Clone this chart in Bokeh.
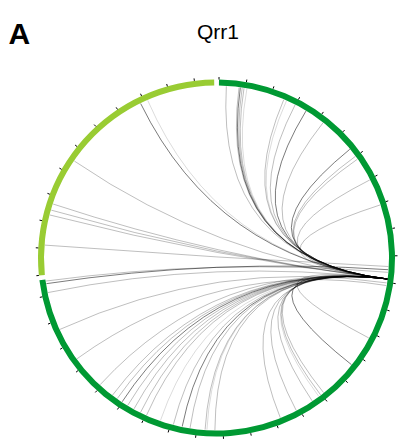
import numpy as np
from bokeh.plotting import figure
from bokeh.models import Range1d, ColumnDataSource
from bokeh.core.properties import value
from bokeh.embed import file_html
from bokeh.resources import INLINE

# ---------------- data ----------------
title_text = "Qrr1"
panel_label = "A"
chrom_names = ["chr1", "chr2"]
chrom_lengths_kb = [2961, 1072]
chrom_colors = ["#009933", "#99cc33"]
tick_step_kb = 100

# links: target position (chromosome, kb) -> Qrr1 end (chr1, kb), and link strength (1..3)
link_target_chrom = (["chr1"] * 44) + (["chr2"] * 7)
link_target_kb = [28, 76, 81, 88, 95, 106, 251, 262, 298, 345, 423, 565, 599, 612, 703, 805,
                  1321, 1441, 1590, 1604, 1613, 1643, 1713, 1779, 2031, 2061, 2068, 2125, 2155,
                  2189, 2240, 2296, 2321, 2349, 2376, 2401, 2423, 2445, 2506, 2637, 2765, 2911,
                  2945, 2955,
                  112, 227, 246, 270, 451, 785, 814]
link_source_kb = [1087] * 39 + [1112, 1102, 1087, 1052, 1062,
                                1040, 1087, 1087, 1087, 1087, 1087, 1087]
link_strength = [2, 2, 3, 2, 2, 1, 2, 1, 2, 3, 2, 3, 2, 2, 2, 2,
                 2, 3, 2, 2, 1, 2, 2, 2, 2, 1, 2, 2, 3,
                 2, 1, 2, 2, 2, 2, 3, 2, 2, 2, 2, 2, 2,
                 3, 2,
                 2, 2, 2, 2, 2, 3, 1]

# ---------------- layout ----------------
OFF = 0                         # page offset of the figure
CX, CY = 216.0, 257.5           # circle centre in page pixels
W, H = 399, 444
gap_deg = 1.55
R_IN, R_OUT = 172.5, 178.5
total_kb = sum(chrom_lengths_kb)
deg_per_kb = (360.0 - 2 * gap_deg) / total_kb
start_deg = {"chr1": 89.2}
start_deg["chr2"] = start_deg["chr1"] - chrom_lengths_kb[0] * deg_per_kb - gap_deg


def ang(chrom, kb):
    return np.deg2rad(start_deg[chrom] - np.asarray(kb, dtype=float) * deg_per_kb)


p = figure(width=W, height=H, x_range=Range1d(OFF - CX, OFF + W - CX),
           y_range=Range1d(CY - (OFF + H), CY - OFF), output_backend="svg",
           toolbar_location=None, min_border=0, x_axis_location=None,
           y_axis_location=None)
p.grid.visible = False
p.outline_line_color = None
p.background_fill_color = "white"

# chromosome ring
for name, length, col in zip(chrom_names, chrom_lengths_kb, chrom_colors):
    a0 = float(ang(name, 0))
    a1 = float(ang(name, length))
    p.annular_wedge(x=0, y=0, inner_radius=R_IN, outer_radius=R_OUT,
                    start_angle=a1, end_angle=a0, direction="anticlock",
                    fill_color=col, line_color=None)

# ticks
tx0, ty0, tx1, ty1 = [], [], [], []
for name, length in zip(chrom_names, chrom_lengths_kb):
    pos = np.arange(0, length + 1, tick_step_kb)
    a = ang(name, pos)
    tx0 += list(R_OUT * np.cos(a)); ty0 += list(R_OUT * np.sin(a))
    tx1 += list((R_OUT + 2.5) * np.cos(a)); ty1 += list((R_OUT + 2.5) * np.sin(a))
p.segment(x0=tx0, y0=ty0, x1=tx1, y1=ty1, line_color="black", line_width=1)

# links
r_link = R_IN - 0.5
at = np.array([float(ang(c, k)) for c, k in zip(link_target_chrom, link_target_kb)])
asrc = ang("chr1", link_source_kb)
alpha_map = {1: 0.18, 2: 0.32, 3: 0.65}
src = ColumnDataSource(dict(
    x0=r_link * np.cos(at), y0=r_link * np.sin(at),
    x1=r_link * np.cos(asrc), y1=r_link * np.sin(asrc),
    cx=np.zeros(len(at)), cy=np.zeros(len(at)),
    alpha=[alpha_map[s] for s in link_strength]))
p.quadratic(x0="x0", y0="y0", x1="x1", y1="y1", cx="cx", cy="cy", source=src,
            line_color="black", line_alpha="alpha", line_width=0.8)

# texts
p.text(x=[217.5 - CX], y=[CY - 31], text=[title_text], text_align="center",
       text_baseline="alphabetic", text_font=value("Liberation Sans"),
       text_font_size="21px", text_color="black")
p.text(x=[8.0 - CX], y=[CY - 33], text=[panel_label], text_align="left",
       text_baseline="alphabetic", text_font=value("Liberation Sans"),
       text_font_size="30px", text_font_style="bold", text_color="black")

open("out.html", "w").write(file_html(p, INLINE))
